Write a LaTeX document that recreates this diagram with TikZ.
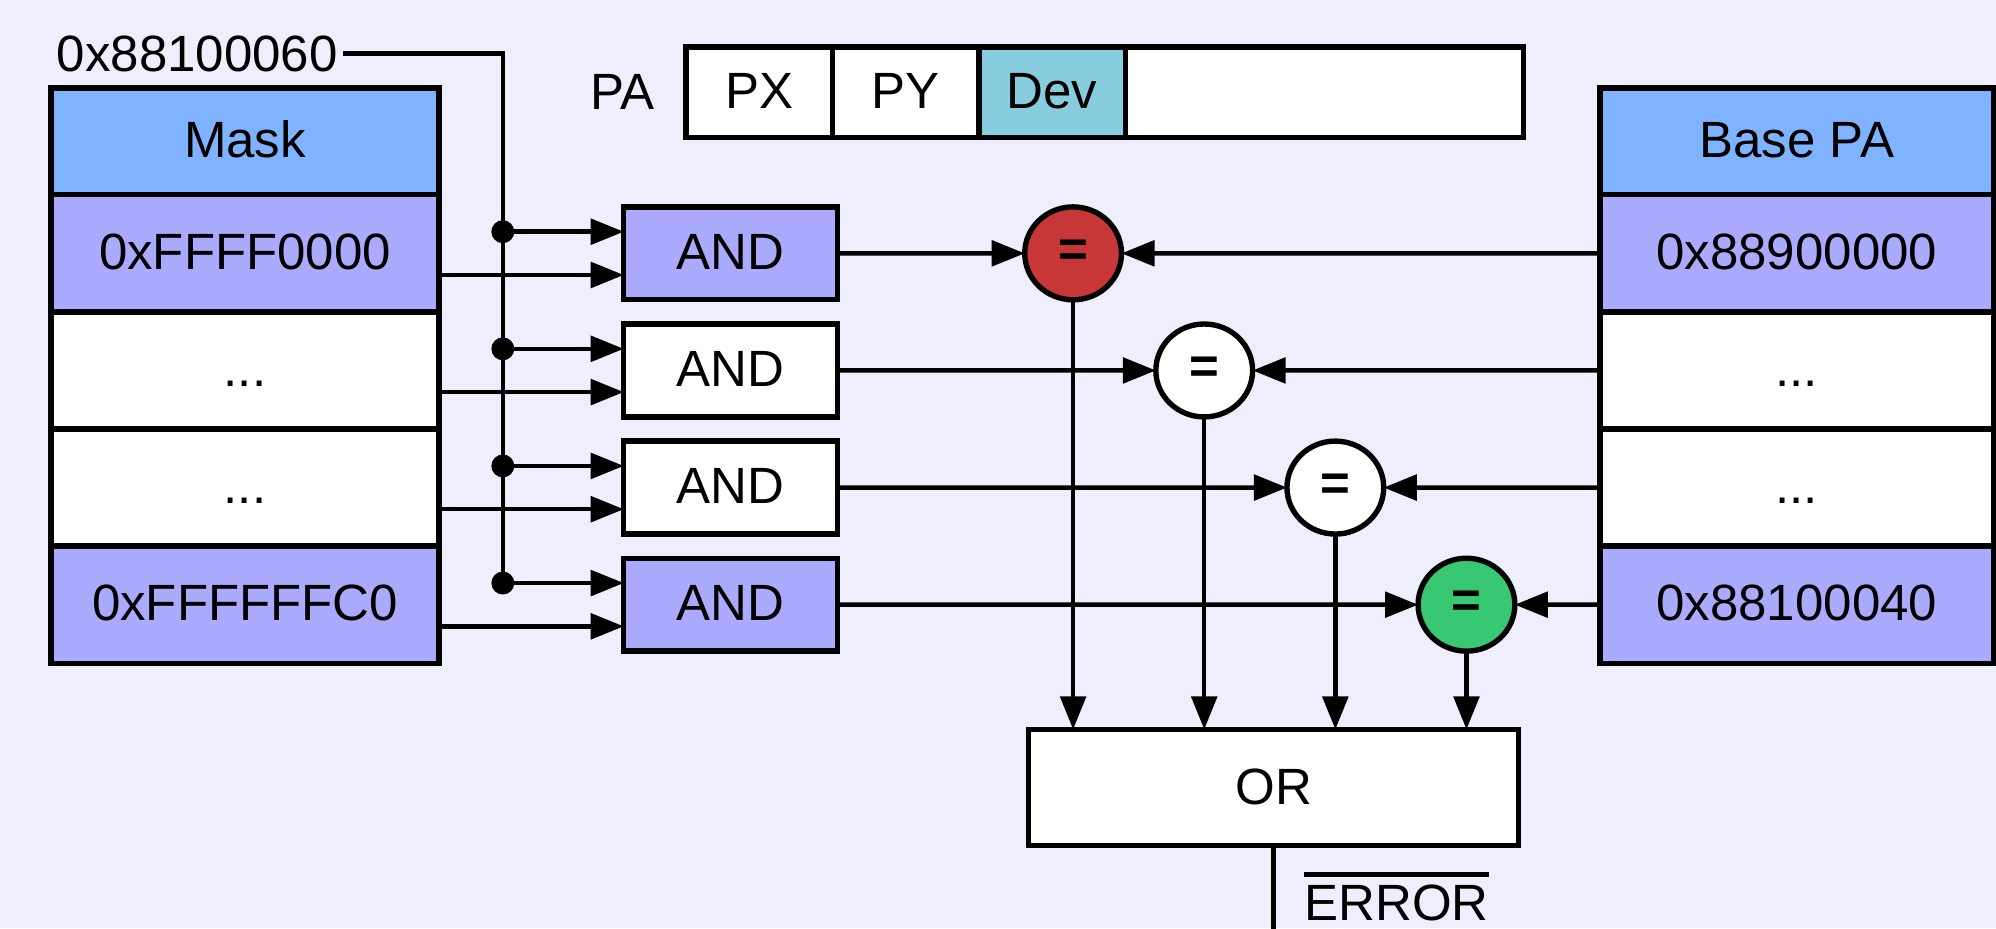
\documentclass[tikz,border=0pt]{standalone}
\usepackage{fontspec}
\setmainfont{Liberation Sans}
\usetikzlibrary{arrows.meta,positioning,shapes.geometric,calc}
\definecolor{PageBg}{HTML}{EEEEFD}
\definecolor{HeadBlue}{HTML}{80B3FF}
\definecolor{RowViolet}{HTML}{AAAAFF}
\definecolor{DevTeal}{HTML}{87CDDE}
\definecolor{MatchRed}{HTML}{C83737}
\definecolor{MatchGreen}{HTML}{37C871}
\newcommand\negbar[1]{\vbox{\hrule height 1.1pt\kern 1.8pt\hbox{#1}}}
\tikzset{
  tablecell/.style={draw,line width=1.2pt,outer sep=0pt,minimum height=9.2mm,text height=0.72em,text depth=0pt,inner sep=0pt},
  headcell/.style={tablecell,fill=HeadBlue,minimum height=8.4mm},
  setcell/.style={tablecell,fill=RowViolet},
  freecell/.style={tablecell,fill=white},
  bitcell/.style={draw,line width=1.2pt,outer sep=0pt,fill=white,minimum width=1.15cm,minimum height=7.1mm,text height=0.72em,text depth=0pt,inner sep=0pt},
  andgate/.style={draw,line width=1.2pt,outer sep=0pt,minimum width=1.68cm,minimum height=7.3mm,text height=0.72em,text depth=0pt,inner sep=0pt},
  cmpnode/.style={ellipse,draw,line width=1.2pt,outer sep=0pt,fill=white,minimum width=7.6mm,minimum height=7.3mm,inner sep=0pt,font=\fontsize{11.4}{13.7}\selectfont\bfseries},
  wire/.style={line width=1pt},
  sigarrow/.style={-{Triangle[length=2.6mm,width=2mm]},line width=1pt},
  tapdot/.style={circle,fill=black,inner sep=0pt,minimum size=1.8mm}
}
\begin{document}
\begin{tikzpicture}[font=\fontsize{11.4}{13.7}\selectfont,
  maskcol/.style={minimum width=3.05cm},basecol/.style={minimum width=3.09cm}]
\path[use as bounding box,fill=PageBg] (0,0) rectangle (15.68,-7.29);
% mask registers
\node[headcell,maskcol] (mhead) at (1.925,-1.11) {Mask};
\node[setcell,maskcol,below=0pt of mhead] (m1) {0xFFFF0000};
\node[freecell,maskcol,below=0pt of m1] (m2) {...};
\node[freecell,maskcol,below=0pt of m2] (m3) {...};
\node[setcell,maskcol,below=0pt of m3] (m4) {0xFFFFFFC0};
% base address registers
\node[headcell,basecol] (bhead) at (14.115,-1.11) {Base PA};
\node[setcell,basecol,below=0pt of bhead] (b1) {0x88900000};
\node[freecell,basecol,below=0pt of b1] (b2) {...};
\node[freecell,basecol,below=0pt of b2] (b3) {...};
\node[setcell,basecol,below=0pt of b3] (b4) {0x88100040};
% physical address fields
\node[bitcell] (px) at (5.965,-0.725) {PX};
\node[bitcell,right=0pt of px] (py) {PY};
\node[bitcell,right=0pt of py,fill=DevTeal] (dev) {Dev};
\node[bitcell,right=0pt of dev,minimum width=3.13cm] (rest) {};
\node[left=2.4mm of px,inner sep=0pt] (palbl) {PA};
% and gates
\node[andgate,fill=RowViolet,right=1.45cm of m1] (a1) {AND};
\node[andgate,fill=white,right=1.45cm of m2] (a2) {AND};
\node[andgate,fill=white,right=1.45cm of m3] (a3) {AND};
\node[andgate,fill=RowViolet,right=1.45cm of m4] (a4) {AND};
% comparators
\node[cmpnode,fill=MatchRed] (q1) at (8.43,-1.99) {=};
\node[cmpnode] (q2) at (9.46,-2.91) {=};
\node[cmpnode] (q3) at (10.49,-3.83) {=};
\node[cmpnode,fill=MatchGreen] (q4) at (11.52,-4.75) {=};
\node[draw,line width=1.2pt,fill=white,minimum width=3.85cm,minimum height=9.1mm,outer sep=0pt] (orgate) at (10.005,-6.185) {OR};
% address bus
\node[inner sep=1pt] (regaddr) at (1.55,-0.42) {0x88100060};
\coordinate (t1) at ($(a1.west)+(-0.95,0.17)$);
\coordinate (t2) at ($(a2.west)+(-0.95,0.17)$);
\coordinate (t3) at ($(a3.west)+(-0.95,0.17)$);
\coordinate (t4) at ($(a4.west)+(-0.95,0.17)$);
\draw[wire] (regaddr.east) -| (t4);
\draw[sigarrow] (t1) -- (t1 -| a1.west); \draw[sigarrow] (t2) -- (t2 -| a2.west);
\draw[sigarrow] (t3) -- (t3 -| a3.west); \draw[sigarrow] (t4) -- (t4 -| a4.west);
\node[tapdot] at (t1) {}; \node[tapdot] at (t2) {}; \node[tapdot] at (t3) {}; \node[tapdot] at (t4) {};
\draw[sigarrow] ([yshift=-1.7mm]m1.east) -- ([yshift=-1.7mm]a1.west);
\draw[sigarrow] ([yshift=-1.7mm]m2.east) -- ([yshift=-1.7mm]a2.west);
\draw[sigarrow] ([yshift=-1.7mm]m3.east) -- ([yshift=-1.7mm]a3.west);
\draw[sigarrow] ([yshift=-1.7mm]m4.east) -- ([yshift=-1.7mm]a4.west);
% compare and collect
\draw[sigarrow] (a1) -- (q1); \draw[sigarrow] (b1) -- (q1);
\draw[sigarrow] (a2) -- (q2); \draw[sigarrow] (b2) -- (q2);
\draw[sigarrow] (a3) -- (q3); \draw[sigarrow] (b3) -- (q3);
\draw[sigarrow] (a4) -- (q4); \draw[sigarrow] (b4) -- (q4);
\draw[sigarrow] (q1) -- (q1 |- orgate.north); \draw[sigarrow] (q2) -- (q2 |- orgate.north);
\draw[sigarrow] (q3) -- (q3 |- orgate.north); \draw[sigarrow] (q4) -- (q4 |- orgate.north);
\coordinate (errend) at ($(orgate.south)+(0,-0.8)$);
\draw[wire] (orgate.south) -- (errend);
\node[anchor=base west,inner sep=0pt] (errlbl) at ($(orgate.south)+(0.235,-0.59)$) {\negbar{ERROR}};
\end{tikzpicture}
\end{document}
